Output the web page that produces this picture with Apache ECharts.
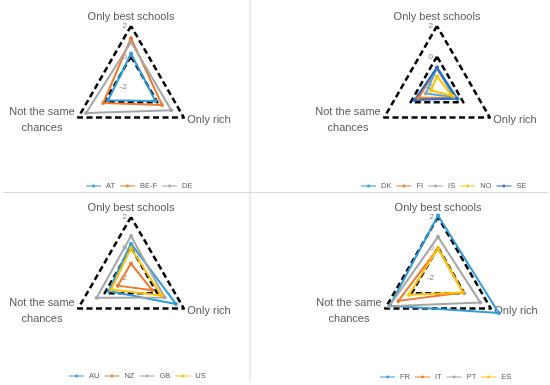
<!DOCTYPE html>
<html><head><meta charset="utf-8">
<script src="https://cdn.jsdelivr.net/npm/echarts@6/dist/echarts.min.js"></script>
<style>html,body{margin:0;padding:0;background:#fff}#c{width:550px;height:385px}</style>
</head><body><div id="c"></div>
<script>
// ---- data ----
const axisNames = ['Only best schools', 'Not the same chances', 'Only rich']; // top, bottom-left, bottom-right
const axisMin = -2, axisMax = 2;
const refOuter = [2, 2, 2];
const refInner = [0, 0, 0];

const names1 = ['AT', 'BE-F', 'DE'];
const AT = [0.2, -0.27, -0.15];
const BEF = [1.2, 0.1, 0.35];
const DE = [0.95, 1.4, 1.05];

const names2 = ['DK', 'FI', 'IS', 'NO', 'SE'];
const DK = [-0.7, -0.4, -0.45];
const FI = [-0.8, -0.6, -0.6];
const IS = [-0.75, -1.15, -0.7];
const NO = [-1.3, -1.55, -0.85];
const SE = [-0.75, -0.3, -0.5];

const names3 = ['AU', 'NZ', 'GB', 'US'];
const AU = [0.25, -0.3, 1.4];
const NZ = [-1.05, -1.0, -0.4];
const GB = [0.75, 0.6, 0.55];
const US = [-0.05, -0.5, 0.3];

const names4 = ['FR', 'IT', 'PT', 'ES'];
const FR = [2.1, 1.65, 2.6];
const IT = [-0.05, 1.0, -0.1];
const PT = [0.7, 1.7, 1.2];
const ES = [-0.05, 0.2, -0.1];

// ---- styles ----
const BLUE = '#2E9BDA', ORANGE = '#F07A2B', GRAY = '#A5A5A5', YELLOW = '#FFC000', DBLUE = '#2C6BC0';
const panels = [
  {center: [131, 87], names: names1, values: [AT, BEF, DE], colors: [BLUE, ORANGE, GRAY], lineColors: [BLUE, ORANGE, GRAY], legendLeft: 81, legendTop: 177},
  {center: [437, 87], names: names2, values: [DK, FI, IS, NO, SE], colors: [BLUE, ORANGE, GRAY, YELLOW, DBLUE], lineColors: [BLUE, ORANGE, '#4FA8E0', YELLOW, DBLUE], legendLeft: 356, legendTop: 177},
  {center: [131, 278], names: names3, values: [AU, NZ, GB, US], colors: [BLUE, ORANGE, GRAY, YELLOW], lineColors: [BLUE, ORANGE, GRAY, YELLOW], legendLeft: 64, legendTop: 367},
  {center: [438, 278], names: names4, values: [FR, IT, PT, ES], colors: [BLUE, ORANGE, GRAY, YELLOW], lineColors: [BLUE, ORANGE, GRAY, YELLOW], legendLeft: 375, legendTop: 368}
];
const FONT = 'Liberation Sans, Arial, sans-serif';
const legendIcon = 'path://M0,2.4H19V3.6H0Z M11.3,3A1.8,1.8 0 1 1 7.7,3A1.8,1.8 0 1 1 11.3,3Z';

const radar = panels.map(p => ({
  center: p.center, radius: 61, startAngle: 90, shape: 'polygon', splitNumber: 2,
  indicator: axisNames.map((n, i) => ({name: n, min: axisMin, max: axisMax, axisLabel: {show: i === 0}})),
  nameGap: 4,
  axisName: {
    color: '#595959', fontSize: 11, fontFamily: FONT,
    formatter: v => v === 'Not the same chances' ? '{c|Not the same}\n{c|chances}' : v,
    rich: {c: {align: 'center', fontSize: 11, color: '#595959', lineHeight: 16, fontFamily: FONT}}
  },
  splitLine: {show: false}, splitArea: {show: false}, axisLine: {show: false}, axisTick: {show: false},
  axisLabel: {show: false, rotate: 0, color: '#7f7f7f', fontSize: 8, fontFamily: FONT, margin: 4}
}));

const dashStyle = {color: '#000', width: 2.5, type: [6, 3.5]};
const series = panels.map((p, idx) => ({
  type: 'radar', radarIndex: idx, silent: true,
  data: [
    {value: refOuter, name: 'ref2', symbol: 'none', lineStyle: dashStyle},
    {value: refInner, name: 'ref0', symbol: 'none', lineStyle: dashStyle}
  ].concat(p.names.map((n, i) => ({
    value: p.values[i], name: n, symbol: 'circle', symbolSize: 4,
    itemStyle: {color: p.colors[i]}, lineStyle: {color: p.lineColors[i], width: 2}
  })))
}));

const legend = panels.map(p => ({
  data: p.names, left: p.legendLeft, top: p.legendTop, orient: 'horizontal',
  icon: legendIcon, itemWidth: 15, itemHeight: 5, itemGap: 5,
  textStyle: {fontSize: 7.5, color: '#595959', fontFamily: FONT},
  selectedMode: false
}));

const chart = echarts.init(document.getElementById('c'));
chart.setOption({
  animation: false,
  backgroundColor: '#fff',
  radar, series, legend,
  graphic: [
    {type: 'line', shape: {x1: 250, y1: 0, x2: 250, y2: 381}, style: {stroke: '#d9d9d9', lineWidth: 1}, silent: true},
    {type: 'line', shape: {x1: 3, y1: 192.5, x2: 548, y2: 192.5}, style: {stroke: '#d9d9d9', lineWidth: 1}, silent: true}
  ]
});
</script></body></html>
